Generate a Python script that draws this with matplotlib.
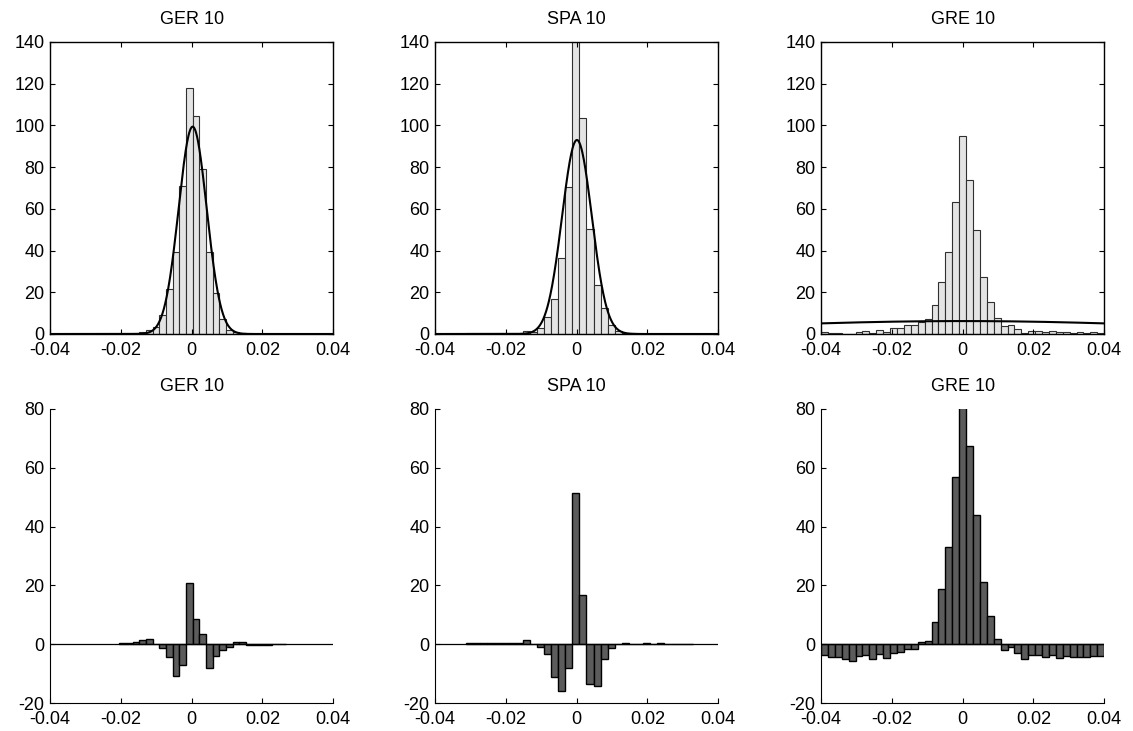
import numpy as np
import matplotlib
matplotlib.use('Agg')
import matplotlib.pyplot as plt

plt.rcParams['font.family'] = ['Liberation Sans', 'DejaVu Sans']
plt.rcParams['font.size'] = 13
plt.rcParams['axes.unicode_minus'] = False

titles = ['GER 10', 'SPA 10', 'GRE 10']

# bin layout of each histogram (first bin centre, bin width)
ger_first_center = -0.01945
ger_bin_width = 0.00188
spa_first_center = -0.0302
spa_bin_width = 0.002
gre_edges_lo, gre_edges_hi, gre_n_bins = -0.04, 0.04, 41

# top row: empirical frequencies
ger_counts = [0.0, 0.1, 0.3, 0.8, 2.0, 3.5, 9.0, 21.4, 39.3, 71.0, 118.0, 104.5, 79.0,
              39.5, 19.7, 7.4, 1.8, 0.8, 0.4, 0, 0, 0, 0, 0, 0]
spa_counts = [0.3, 0.3, 0.4, 0.5, 0.5, 0.5, 0.6, 0.6, 1.2, 0.8, 2.9, 8.3, 16.6, 36.6, 70.3,
              155.0, 103.4, 50.5, 23.3, 12.3, 4.3, 1.5, 0.6, 0.3, 0.2, 0.2, 0.1, 0.1, 0.1,
              0.1, 0.1, 0.1]
gre_counts = [1.1, 0.6, 0.5, 0.2, 0.0, 1.1, 1.4, 0.6, 1.7, 0.9, 2.7, 3.0, 4.3, 4.3, 5.6,
              7.0, 13.7, 25.1, 39.2, 63.3, 95.0, 73.7, 49.9, 27.2, 15.5, 7.5, 3.8, 4.3,
              2.6, 0.7, 1.6, 1.6, 0.8, 1.4, 0.9, 1.1, 0.7, 1.0, 0.6, 1.0, 0.6]

# fitted normal curves (mean, std, peak height)
fit_mu = [0.0003, 0.0001, 0.0]
fit_sigma = [0.00396, 0.0042, 0.0635]
fit_peak = [99.4, 93.0, 6.2]

# bottom row: empirical minus fitted
ger_diff = [0.3, 0.5, 0.9, 1.3, 1.7, 0.1, -1.4, -4.2, -10.8, -7.0, 20.9, 8.6, 3.5, -8.2,
            -4.0, -1.9, -1.0, 0.9, 0.9, -0.2, -0.3, -0.2, -0.2, -0.1, -0.1]
spa_diff = [0.3, 0.3, 0.4, 0.5, 0.4, 0.5, 0.4, 0.5, 1.5, 0.0, -0.8, -3.5, -11.3, -15.9,
            -8.2, 51.4, 16.8, -13.6, -14.2, -5.1, -1.4, 0.1, 0.3, 0.2, 0.2, 0.3, 0.2,
            0.3, 0.2, 0.2, 0.2, 0.2]
gre_diff = [-3.6, -4.2, -4.5, -5.1, -5.6, -4.0, -3.7, -5.1, -3.5, -4.8, -3.1, -2.8, -1.5,
            -1.7, 0.6, 1.1, 7.7, 18.9, 33.0, 57.0, 86.0, 67.5, 43.8, 21.0, 9.5, 1.7, -1.9,
            -1.0, -3.1, -5.1, -3.6, -3.6, -4.5, -3.6, -4.8, -4.0, -4.2, -4.2, -4.5, -3.9,
            -4.0]

xticks = [-0.04, -0.02, 0, 0.02, 0.04]
xticklabels = ['-0.04', '-0.02', '0', '0.02', '0.04']

# bin centres
ger_x = ger_first_center + ger_bin_width * np.arange(len(ger_counts))
spa_x = spa_first_center + spa_bin_width * np.arange(len(spa_counts))
gre_edges = np.linspace(gre_edges_lo, gre_edges_hi, gre_n_bins + 1)
gre_x = (gre_edges[:-1] + gre_edges[1:]) / 2
gre_bin_width = gre_edges[1] - gre_edges[0]

centers = [ger_x, spa_x, gre_x]
widths = [ger_bin_width, spa_bin_width, gre_bin_width]
counts = [ger_counts, spa_counts, gre_counts]
diffs = [ger_diff, spa_diff, gre_diff]

fig = plt.figure(figsize=(11.33, 7.31), dpi=100)
lefts = [0.0441, 0.3839, 0.7246]
w = 0.2500

xs = np.linspace(-0.04, 0.04, 600)

for i in range(3):
    # top: histogram with normal fit
    ax = fig.add_axes([lefts[i], 0.5431, w, 0.3995])
    ax.bar(centers[i], counts[i], width=widths[i], color='#e4e4e4',
           edgecolor='#303030', linewidth=0.8)
    curve = fit_peak[i] * np.exp(-(xs - fit_mu[i]) ** 2 / (2 * fit_sigma[i] ** 2))
    ax.plot(xs, curve, color='black', linewidth=1.5)
    ax.set_xlim(-0.04, 0.04)
    ax.set_ylim(0, 140)
    ax.set_yticks(range(0, 141, 20))
    ax.set_xticks(xticks)
    ax.set_xticklabels(xticklabels)
    ax.tick_params(direction='in', length=3.5, width=0.8, top=True, right=True)
    ax.tick_params(axis='x', pad=6)
    ax.tick_params(axis='y', pad=4)
    for s in ax.spines.values():
        s.set_linewidth(1.0)
    ax.set_title(titles[i], fontsize=13, pad=13)

    # bottom: difference
    ax = fig.add_axes([lefts[i], 0.0383, w, 0.4022])
    ax.bar(centers[i], diffs[i], width=widths[i], color='#5c5c5c',
           edgecolor='black', linewidth=1.0)
    ax.axhline(0, color='black', linewidth=0.9)
    ax.set_xlim(-0.04, 0.04)
    ax.set_ylim(-20, 80)
    ax.set_yticks(range(-20, 81, 20))
    ax.set_xticks(xticks)
    ax.set_xticklabels(xticklabels)
    ax.spines['top'].set_visible(False)
    ax.spines['right'].set_visible(False)
    ax.tick_params(direction='in', length=3.5, width=0.8)
    ax.tick_params(axis='x', pad=6)
    ax.tick_params(axis='y', pad=4)
    ax.set_title(titles[i], fontsize=13, pad=13)

fig.savefig('out.png', dpi=100)
